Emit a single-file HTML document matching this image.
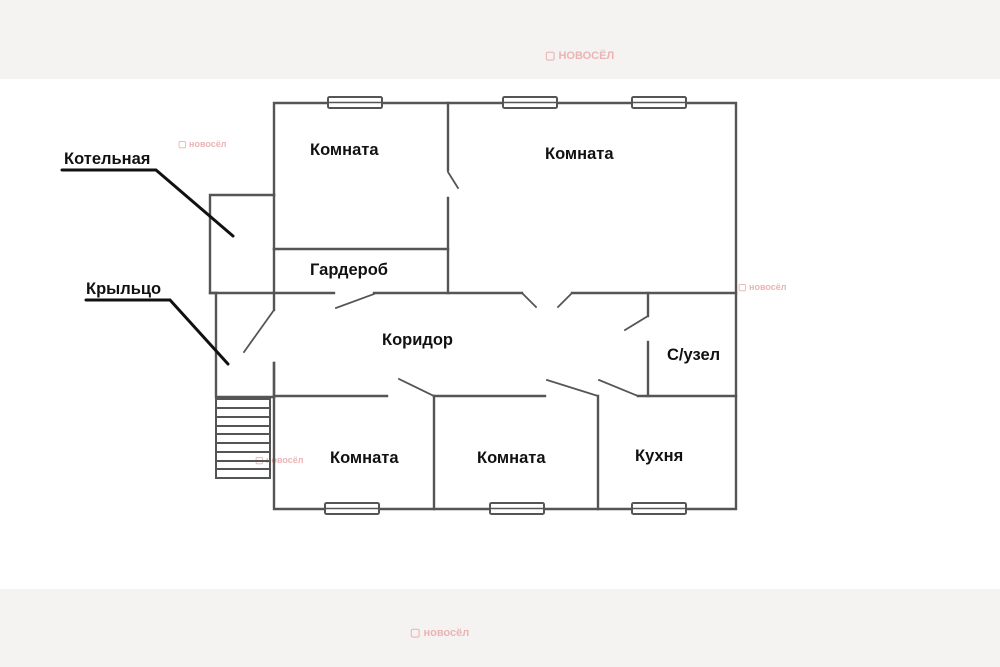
<!DOCTYPE html>
<html><head><meta charset="utf-8"><style>
html,body{margin:0;padding:0;background:#fff}
svg{display:block}
text{font-family:"Liberation Sans",sans-serif}
</style></head><body>
<svg width="1000" height="667" viewBox="0 0 1000 667" xmlns="http://www.w3.org/2000/svg">
<rect x="0" y="0" width="1000" height="79" fill="#f5f3f1"/>
<rect x="0" y="589" width="1000" height="78" fill="#f5f3f1"/>
<g fill="#eab4b4" font-size="11" font-weight="bold">
<text x="545" y="59">▢ НОВОСЁЛ</text>
<text x="178" y="147" font-size="9">▢ новосёл</text>
<text x="738" y="290" font-size="9">▢ новосёл</text>
<text x="255" y="463" font-size="9">▢ новосёл</text>
<text x="410" y="636">▢ новосёл</text>
</g>
<g stroke="#555" stroke-width="2.4" fill="none" stroke-linecap="square">
<polyline points="274,195 274,103 736,103 736,509 274,509 274,363"/>
<line x1="274" y1="310" x2="274" y2="293"/>
<line x1="274" y1="293" x2="274" y2="249"/>
<line x1="274" y1="249" x2="274" y2="195"/>
<polyline points="274,195 210,195 210,293 216,293"/>
<polyline points="216,293 216,397 274,397"/>
<line x1="274" y1="310" x2="244" y2="352" stroke-width="1.8"/>
<line x1="274" y1="363" x2="274" y2="397"/>
<line x1="448" y1="103" x2="448" y2="170"/>
<line x1="448" y1="172" x2="458" y2="188" stroke-width="1.8"/>
<line x1="448" y1="198" x2="448" y2="293"/>
<line x1="274" y1="249" x2="448" y2="249"/>
<line x1="210" y1="293" x2="334" y2="293"/>
<line x1="336" y1="308" x2="374" y2="294" stroke-width="1.8"/>
<line x1="374" y1="293" x2="522" y2="293"/>
<line x1="522" y1="293" x2="536" y2="307" stroke-width="1.8"/>
<line x1="558" y1="307" x2="572" y2="293" stroke-width="1.8"/>
<line x1="572" y1="293" x2="736" y2="293"/>
<line x1="648" y1="293" x2="648" y2="316"/>
<line x1="648" y1="316" x2="625" y2="330" stroke-width="1.8"/>
<line x1="648" y1="342" x2="648" y2="396"/>
<line x1="274" y1="396" x2="387" y2="396"/>
<line x1="399" y1="379" x2="434" y2="396" stroke-width="1.8"/>
<line x1="434" y1="396" x2="434" y2="509"/>
<line x1="434" y1="396" x2="545" y2="396"/>
<line x1="547" y1="380" x2="598" y2="396" stroke-width="1.8"/>
<line x1="598" y1="396" x2="598" y2="509"/>
<line x1="599" y1="380" x2="638" y2="396" stroke-width="1.8"/>
<line x1="638" y1="396" x2="736" y2="396"/>
</g>
<g stroke="#555" stroke-width="2" fill="#fff">
<rect x="328" y="97" width="54" height="11" rx="1.5"/>
<rect x="503" y="97" width="54" height="11" rx="1.5"/>
<rect x="632" y="97" width="54" height="11" rx="1.5"/>
<rect x="325" y="503" width="54" height="11" rx="1.5"/>
<rect x="490" y="503" width="54" height="11" rx="1.5"/>
<rect x="632" y="503" width="54" height="11" rx="1.5"/>
<line x1="328" y1="102.5" x2="382" y2="102.5" stroke-width="1.5"/>
<line x1="503" y1="102.5" x2="557" y2="102.5" stroke-width="1.5"/>
<line x1="632" y1="102.5" x2="686" y2="102.5" stroke-width="1.5"/>
<line x1="325" y1="508.5" x2="379" y2="508.5" stroke-width="1.5"/>
<line x1="490" y1="508.5" x2="544" y2="508.5" stroke-width="1.5"/>
<line x1="632" y1="508.5" x2="686" y2="508.5" stroke-width="1.5"/>
</g>
<g stroke="#555" stroke-width="2" fill="none">
<rect x="216" y="399" width="54" height="79"/>
<line x1="216" y1="408" x2="270" y2="408"/>
<line x1="216" y1="417" x2="270" y2="417"/>
<line x1="216" y1="426" x2="270" y2="426"/>
<line x1="216" y1="434" x2="270" y2="434"/>
<line x1="216" y1="443" x2="270" y2="443"/>
<line x1="216" y1="452" x2="270" y2="452"/>
<line x1="216" y1="461" x2="270" y2="461"/>
<line x1="216" y1="469" x2="270" y2="469"/>
</g>
<g stroke="#111" stroke-width="3" fill="none" stroke-linecap="round">
<polyline points="62,170 156,170 233,236"/>
<polyline points="86,300 170,300 228,364"/>
</g>
<g font-weight="bold" fill="#111" font-size="16.5">
<text x="64" y="164">Котельная</text>
<text x="86" y="294">Крыльцо</text>
<text x="310" y="155">Комната</text>
<text x="545" y="159">Комната</text>
<text x="310" y="275">Гардероб</text>
<text x="382" y="345">Коридор</text>
<text x="667" y="360">С/узел</text>
<text x="330" y="463">Комната</text>
<text x="477" y="463">Комната</text>
<text x="635" y="461">Кухня</text>
</g>
</svg>
</body></html>
